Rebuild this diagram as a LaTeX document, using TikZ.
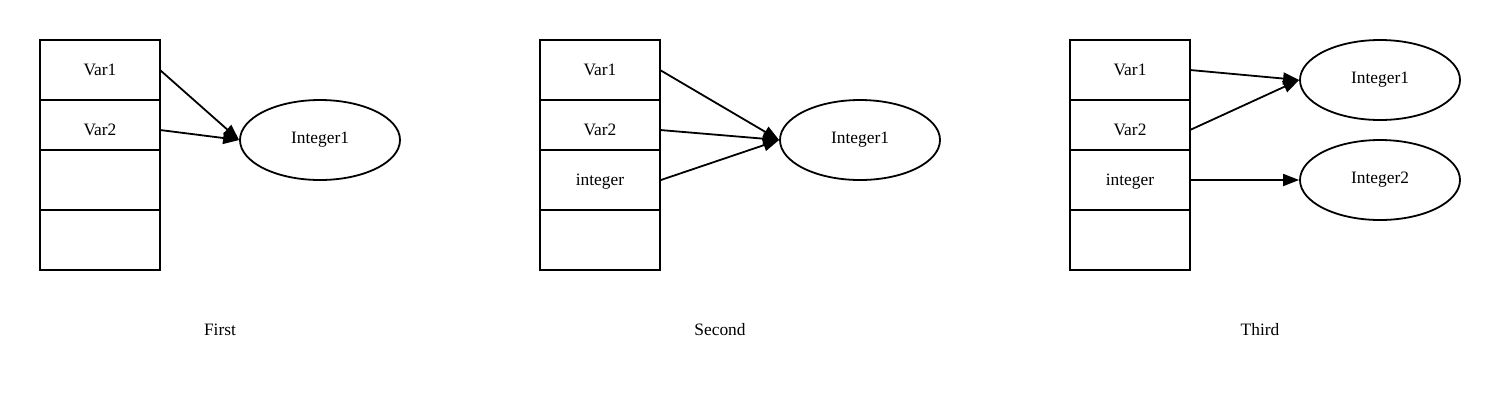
\documentclass[tikz,border=0pt]{standalone}
\usepackage{fontspec}
\setmainfont{Liberation Serif}
\usetikzlibrary{shapes.geometric,arrows.meta}
\begin{document}
\begin{tikzpicture}[x=1pt,y=-1pt,
  every node/.style={font=\fontsize{17.4}{20}\selectfont,text height=15pt,text depth=3.5pt},
  cell/.style={draw,line width=1.8pt,minimum width=120pt,inner sep=0pt},
  obj/.style={draw,line width=1.8pt,ellipse,minimum width=160pt,minimum height=80pt,inner sep=0pt,text height=11pt},
  ref/.style={line width=1.8pt,-{Triangle[length=16pt,width=12pt]}},
  captxt/.style={}]
\useasboundingbox (0,0) rectangle (1500,400);
% Panel 1
\node[cell,minimum height=60pt] (a1) at (100,70) {Var1};
\node[cell,minimum height=50pt] (a2) at (100,125) {};
\node at (100,130) {Var2};
\node[cell,minimum height=60pt] (a3) at (100,180) {};
\node[cell,minimum height=60pt] (a4) at (100,240) {};
\node[obj] (i1a) at (320,140) {Integer1};
\coordinate (s1a) at (160,70);
\coordinate (s2a) at (160,130);
\draw[ref] (s1a) -- (i1a.west);
\draw[ref] (s2a) -- (i1a.west);
\node[captxt] (ca) at (220,330) {First};
% Panel 2
\node[cell,minimum height=60pt] (b1) at (600,70) {Var1};
\node[cell,minimum height=50pt] (b2) at (600,125) {};
\node at (600,130) {Var2};
\node[cell,minimum height=60pt] (b3) at (600,180) {integer};
\node[cell,minimum height=60pt] (b4) at (600,240) {};
\node[obj] (i1b) at (860,140) {Integer1};
\coordinate (s1b) at (660,70);
\coordinate (s2b) at (660,130);
\draw[ref] (s1b) -- (i1b.west);
\draw[ref] (s2b) -- (i1b.west);
\draw[ref] (b3.east) -- (i1b.west);
\node[captxt] (cb) at (720,330) {Second};
% Panel 3
\node[cell,minimum height=60pt] (c1) at (1130,70) {Var1};
\node[cell,minimum height=50pt] (c2) at (1130,125) {};
\node at (1130,130) {Var2};
\node[cell,minimum height=60pt] (c3) at (1130,180) {integer};
\node[cell,minimum height=60pt] (c4) at (1130,240) {};
\node[obj] (i1c) at (1380,80) {Integer1};
\node[obj] (i2c) at (1380,180) {Integer2};
\coordinate (s1c) at (1190,70);
\coordinate (s2c) at (1190,130);
\draw[ref] (s1c) -- (i1c.west);
\draw[ref] (s2c) -- (i1c.west);
\draw[ref] (c3.east) -- (i2c.west);
\node[captxt] (cc) at (1260,330) {Third};
\end{tikzpicture}
\end{document}
